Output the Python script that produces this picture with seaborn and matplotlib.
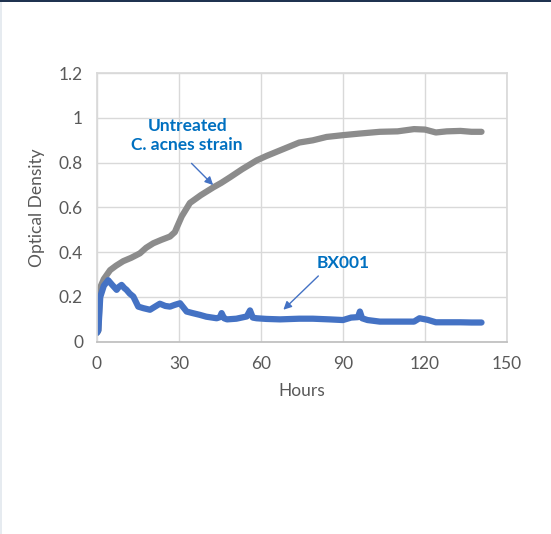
import pandas as pd
import seaborn as sns
import matplotlib.pyplot as plt
from matplotlib.patches import Rectangle

# Readings taken off the curves (hours, optical density)
untreated_hours = [0, 0.5, 1.1, 2.5, 4.8, 7, 9.6, 12.5, 15.7, 18, 20.6, 23.5, 26.7, 28.5,
                   29.2, 31, 34, 38, 42.6, 45.5, 48.7, 53, 58.4, 62, 67, 70, 74, 79,
                   84, 90, 96, 103.5, 110, 116, 120, 124, 128, 133, 137, 140.7]
untreated_od = [0.04, 0.05, 0.24, 0.28, 0.32, 0.34, 0.36, 0.375, 0.395, 0.42, 0.44, 0.455,
                0.47, 0.49, 0.51, 0.56, 0.62, 0.655, 0.69, 0.71, 0.735, 0.77, 0.81, 0.83,
                0.855, 0.87, 0.89, 0.90, 0.915, 0.923, 0.93, 0.938, 0.94, 0.95, 0.948,
                0.935, 0.94, 0.942, 0.938, 0.938]

bx001_hours = [0, 0.5, 1.2, 2.5, 4.1, 5.5, 7.2, 8, 9, 10, 10.8, 12, 13.3, 15.1, 17, 19.4,
               21, 23, 25, 26.7, 28.5, 30.4, 32.8, 35, 37.7, 40, 43.8, 45, 45.6, 46.5,
               47.6, 51, 54.8, 56, 57, 58.4, 62, 67, 74, 79, 85, 90, 93, 95.5, 96.2,
               97, 99, 103.5, 110, 116, 118, 121, 124, 128, 133, 137, 140.7]
bx001_od = [0.04, 0.05, 0.2, 0.25, 0.275, 0.255, 0.232, 0.245, 0.254, 0.24, 0.232, 0.215,
            0.202, 0.157, 0.15, 0.143, 0.155, 0.17, 0.16, 0.157, 0.165, 0.172, 0.135,
            0.128, 0.12, 0.112, 0.105, 0.11, 0.128, 0.105, 0.10, 0.103, 0.113, 0.14,
            0.108, 0.105, 0.102, 0.1, 0.103, 0.103, 0.1, 0.097, 0.108, 0.11, 0.135,
            0.105, 0.097, 0.09, 0.09, 0.09, 0.105, 0.098, 0.087, 0.087, 0.087, 0.086,
            0.086]

x_ticks = [0, 30, 60, 90, 120, 150]
y_ticks = [0, 0.2, 0.4, 0.6, 0.8, 1.0, 1.2]
y_labels = ["0", "0.2", "0.4", "0.6", "0.8", "1", "1.2"]

df = pd.concat([
    pd.DataFrame({"Hours": untreated_hours, "OD": untreated_od, "Strain": "Untreated"}),
    pd.DataFrame({"Hours": bx001_hours, "OD": bx001_od, "Strain": "BX001"}),
])

sns.set_theme(style="white")
plt.rcParams['font.family'] = ['Lato', 'DejaVu Sans']

fig = plt.figure(figsize=(5.51, 5.34), dpi=100)
ax = fig.add_axes([0.176, 0.360, 0.744, 0.503])

sns.lineplot(data=df, x="Hours", y="OD", hue="Strain", sort=False,
             palette={"Untreated": "#8c8c8c", "BX001": "#4472c4"},
             linewidth=4.5, legend=False, ax=ax)

ax.set_xlim(0, 150)
ax.set_ylim(0, 1.2)
ax.set_xticks(x_ticks)
ax.set_yticks(y_ticks)
ax.set_yticklabels(y_labels)
ax.grid(True, color="#d9d9d9", linewidth=1)
ax.set_axisbelow(True)
for side in ["top", "right", "left"]:
    ax.spines[side].set_color("#d9d9d9")
ax.spines["bottom"].set_color("#bfbfbf")
ax.tick_params(axis="both", length=0, labelsize=12.5, colors="#595959", pad=10)
ax.set_xlabel("Hours", fontsize=12.5, color="#595959", labelpad=8)
ax.set_ylabel("Optical Density", fontsize=12.5, color="#595959", labelpad=10)

# annotations
arrow = dict(arrowstyle="-|>", color="#4472c4", lw=1, shrinkA=0, shrinkB=0,
             mutation_scale=12)
ax.text(33, 0.92, "Untreated\nC. acnes strain", ha="center", va="center",
        fontsize=12.5, fontweight="bold", color="#0070c0", linespacing=1.25)
ax.annotate("", xy=(42.5, 0.70), xytext=(34.6, 0.797), arrowprops=arrow)
ax.text(90, 0.352, "BX001", ha="center", va="center",
        fontsize=12.5, fontweight="bold", color="#0070c0")
ax.annotate("", xy=(68.2, 0.143), xytext=(81, 0.294), arrowprops=arrow)

# slide frame
fig.add_artist(Rectangle((0, 0.996), 1, 0.004, transform=fig.transFigure,
                         color="#1f3350", lw=0))
fig.add_artist(Rectangle((0, 0), 0.004, 0.996, transform=fig.transFigure,
                         color="#e6ebf0", lw=0))

fig.savefig("out.png", dpi=100)
